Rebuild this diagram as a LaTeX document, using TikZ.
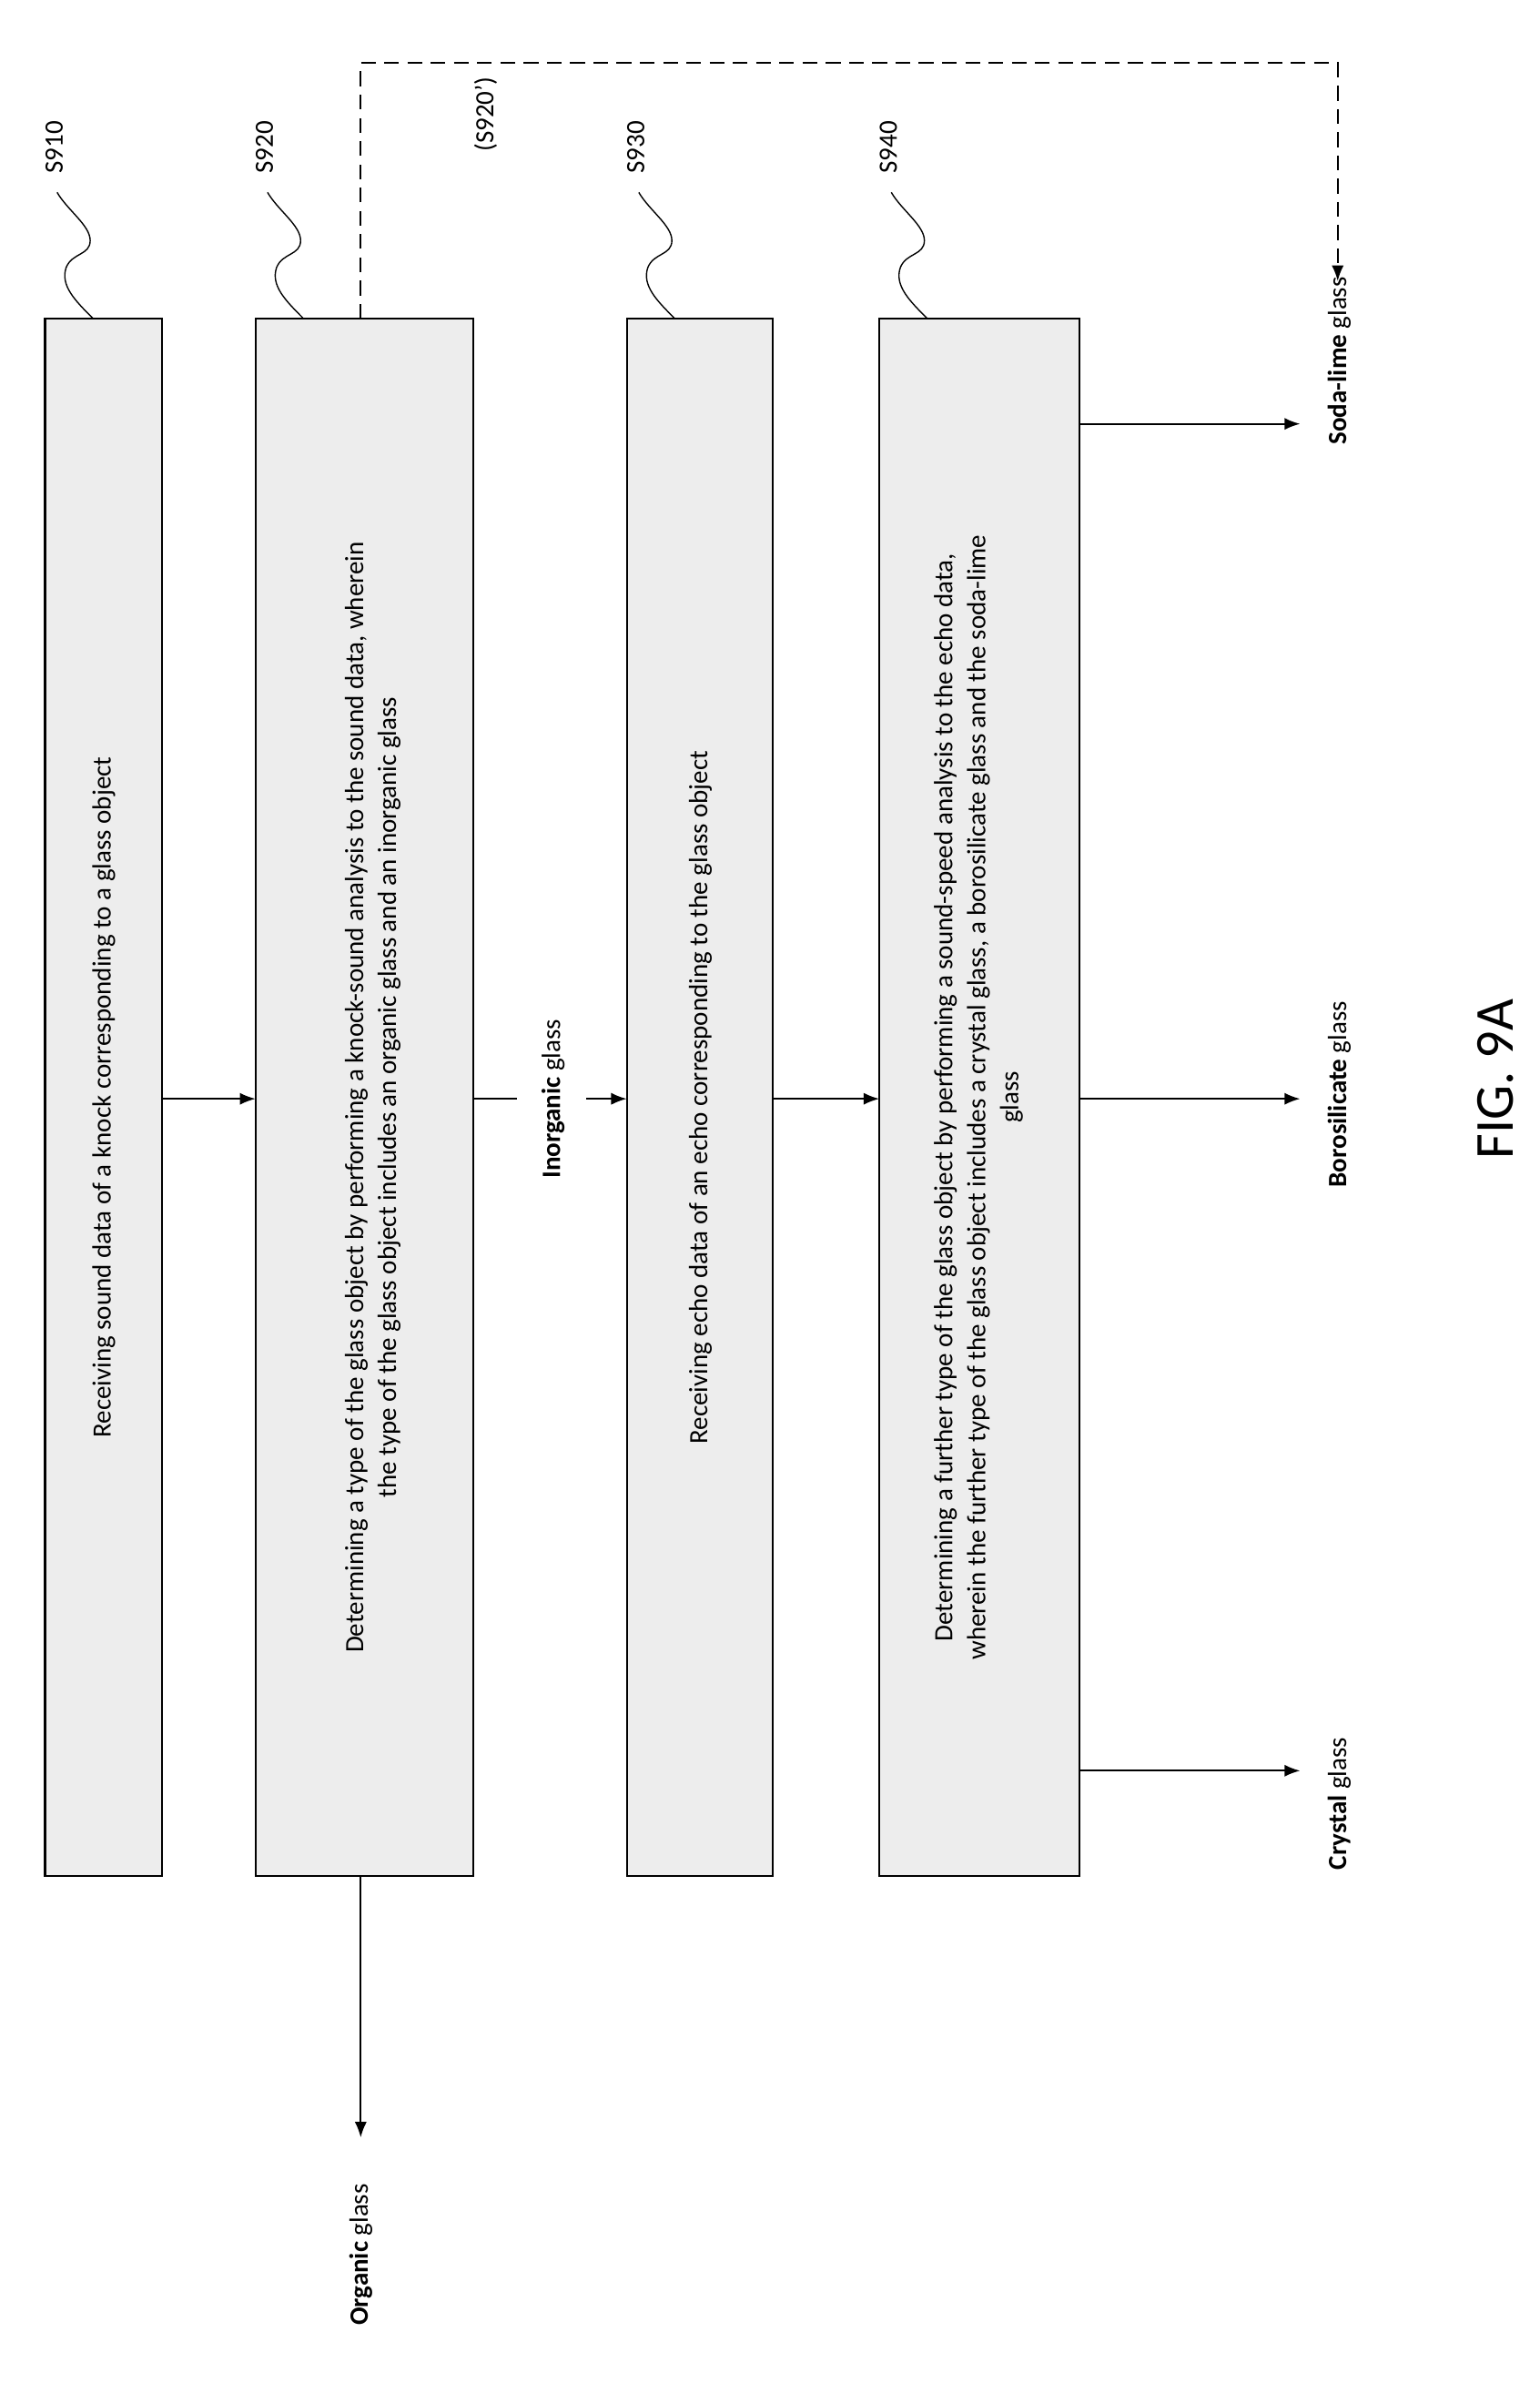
\documentclass[tikz,border=0pt]{standalone}
\usepackage{fontspec}
\setmainfont{Carlito}
\usetikzlibrary{arrows.meta}
\begin{document}
\begin{tikzpicture}[x=0.25mm,y=-0.25mm,
  stepbox/.style={draw,line width=0.9pt,fill=gray!14},
  txt/.style={rotate=90,font=\fontsize{12.5}{15.6}\selectfont,align=center},
  arr/.style={-{Latex[length=2.6mm,width=2mm]},line width=0.8pt},
  ln/.style={line width=0.8pt}]
\path[use as bounding box,fill=white] (0,0) rectangle (1024,1592);
% boxes
\draw[stepbox] (30,212) rectangle (108,1248);
\draw[stepbox] (170,212) rectangle (315,1248);
\draw[stepbox] (417,212) rectangle (514,1248);
\draw[stepbox] (585,212) rectangle (718,1248);
\node[txt] (b1) at (69,730) {Receiving sound data of a knock corresponding to a glass object};
\node[txt] (b2) at (248,730) {Determining a type of the glass object by performing a knock-sound analysis to the sound data, wherein\\the type of the glass object includes an organic glass and an inorganic glass};
\node[txt] (b3) at (466,730) {Receiving echo data of an echo corresponding to the glass object};
\node[txt] (b4) at (651,730) {Determining a further type of the glass object by performing a sound-speed analysis to the echo data,\\wherein the further type of the glass object includes a crystal glass, a borosilicate glass and the soda-lime\\glass};
% squiggles and labels
\foreach \l/\n in {30/S910,170/S920,417/S930,585/S940}{
  \draw[line width=0.6pt] (\l+32,212) .. controls (\l+20,200) and (\l+10,190) .. (\l+14,178)
     .. controls (\l+18,168) and (\l+30,170) .. (\l+30,160)
     .. controls (\l+30,150) and (\l+15,140) .. (\l+8,128);
  \node[txt] (l\n) at (\l+6,98) {\n};
}
% arrows between boxes
\coordinate (a1) at (108,731); \coordinate (a2) at (170,731);
\draw[arr] (a1) -- (a2);
\node[txt] (inorg) at (368,731) {\textbf{Inorganic} glass};
\coordinate (i1) at (315,731); \coordinate (i2) at (344,731);
\coordinate (i3) at (390,731); \coordinate (i4) at (417,731);
\draw[ln] (i1) -- (i2);
\draw[arr] (i3) -- (i4);
\coordinate (c1) at (514,731); \coordinate (c2) at (585,731);
\draw[arr] (c1) -- (c2);
% organic
\coordinate (o1) at (240,1248); \coordinate (o2) at (240,1422);
\draw[arr] (o1) -- (o2);
\node[txt] (org) at (240,1500) {\textbf{Organic} glass};
% dashed loop
\coordinate (d1) at (240,212); \coordinate (d2) at (240,42);
\coordinate (d3) at (890,42); \coordinate (d4) at (890,187);
\draw[arr,dashed,dash pattern=on 7pt off 4pt] (d1) -- (d2) -- (d3) -- (d4);
\node[txt] (s920p) at (323,76) {(S920')};
% outputs
\foreach \y/\lab/\nm in {282/{\textbf{Soda-lime} glass}/sl,731/{\textbf{Borosilicate} glass}/bs,1178/{\textbf{Crystal} glass}/cr}{
  \coordinate (s\nm) at (718,\y); \coordinate (e\nm) at (865,\y);
  \draw[arr] (s\nm) -- (e\nm);
}
\node[txt,anchor=center] (slt) at (891,240) {\textbf{Soda-lime} glass};
\node[txt] (bst) at (891,728) {\textbf{Borosilicate} glass};
\node[txt] (crt) at (891,1200) {\textbf{Crystal} glass};
\node[rotate=90,font=\fontsize{26}{30}\selectfont] (fig) at (995,718) {FIG. 9A};
\end{tikzpicture}
\end{document}
